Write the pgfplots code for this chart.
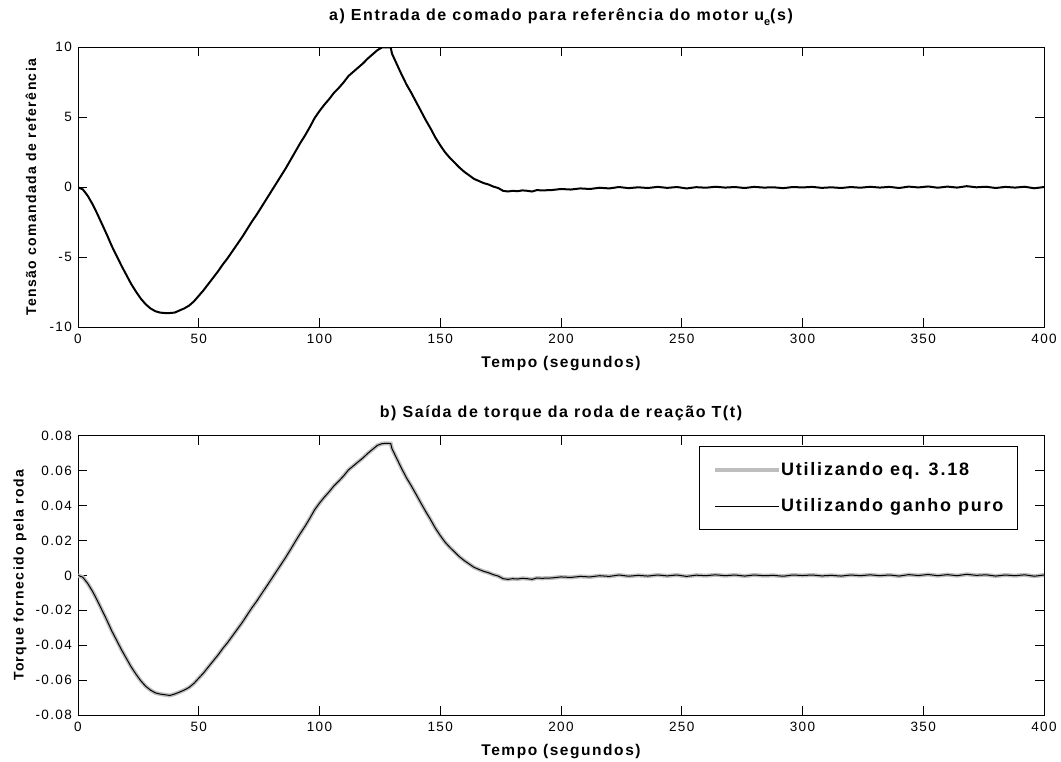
\documentclass[border=0pt]{standalone}
\usepackage{fontspec}
\setmainfont{Liberation Sans}
\newfontfamily\wide[LetterSpace=10]{Liberation Sans}
\usepackage{pgfplots}
\usepackage{pgfplotstable}
\pgfplotsset{compat=1.18}

\definecolor{lgray}{RGB}{190,190,190}

% time (s), commanded reference voltage u (V), wheel torque T (N m)
\pgfplotstableread{
t u T
0 0.00 0.0000
2 -0.15 -0.0011
4 -0.60 -0.0046
6 -1.20 -0.0091
8 -1.90 -0.0144
10 -2.65 -0.0201
12 -3.40 -0.0258
14 -4.20 -0.0319
16 -4.90 -0.0372
18 -5.60 -0.0426
20 -6.25 -0.0475
22 -6.90 -0.0524
24 -7.45 -0.0566
26 -7.95 -0.0604
28 -8.35 -0.0635
30 -8.65 -0.0657
32 -8.85 -0.0673
34 -8.95 -0.0680
36 -8.98 -0.0684
38 -8.98 -0.0688
40 -8.95 -0.0680
42 -8.80 -0.0669
44 -8.65 -0.0657
46 -8.45 -0.0642
48 -8.15 -0.0619
50 -7.75 -0.0589
52 -7.35 -0.0559
54 -6.90 -0.0524
56 -6.45 -0.0490
58 -6.00 -0.0456
60 -5.50 -0.0418
62 -5.05 -0.0384
64 -4.55 -0.0346
66 -4.05 -0.0308
68 -3.55 -0.0270
70 -3.00 -0.0228
72 -2.45 -0.0186
74 -1.95 -0.0148
76 -1.40 -0.0106
78 -0.85 -0.0065
80 -0.30 -0.0023
82 0.25 0.0019
84 0.80 0.0061
86 1.35 0.0103
88 1.95 0.0148
90 2.55 0.0194
92 3.15 0.0239
94 3.70 0.0281
96 4.30 0.0327
98 4.95 0.0376
100 5.45 0.0414
102 5.90 0.0448
104 6.30 0.0479
106 6.75 0.0513
108 7.10 0.0540
110 7.50 0.0570
112 7.95 0.0604
114 8.25 0.0627
116 8.55 0.0650
118 8.85 0.0673
120 9.20 0.0699
122 9.50 0.0722
124 9.80 0.0745
126 10.00 0.0755
128 10.00 0.0756
129.5 10.00 0.0755
130 9.55 0.0726
132 8.80 0.0669
134 8.05 0.0612
136 7.35 0.0559
138 6.75 0.0513
140 6.10 0.0464
142 5.45 0.0414
144 4.80 0.0365
146 4.20 0.0319
148 3.55 0.0270
150 3.00 0.0228
152 2.50 0.0190
154 2.10 0.0160
156 1.75 0.0133
158 1.40 0.0106
160 1.10 0.0084
162 0.85 0.0065
164 0.60 0.0046
166 0.45 0.0034
168 0.30 0.0023
170 0.20 0.0015
172 0.05 0.0004
174 -0.05 -0.0004
176 -0.25 -0.0019
178 -0.30 -0.0023
180 -0.25 -0.0019
182 -0.28 -0.0021
184 -0.22 -0.0017
186 -0.25 -0.0019
188 -0.30 -0.0023
190 -0.20 -0.0015
192 -0.22 -0.0017
196 -0.20 -0.0015
200 -0.12 -0.0009
204 -0.16 -0.0012
208 -0.08 -0.0006
212 -0.12 -0.0009
216 -0.03 -0.0002
220 -0.08 -0.0006
224 0.02 0.0002
228 -0.06 -0.0005
232 0.00 0.0000
236 -0.05 -0.0004
240 0.03 0.0002
244 -0.04 -0.0003
248 0.02 0.0002
252 -0.08 -0.0006
256 0.01 0.0001
260 -0.03 -0.0002
264 0.04 0.0003
268 -0.02 -0.0002
272 0.02 0.0002
276 -0.05 -0.0004
280 0.03 0.0002
284 -0.02 -0.0002
288 0.00 0.0000
292 -0.06 -0.0005
296 0.02 0.0002
300 -0.01 -0.0001
304 0.03 0.0002
308 -0.04 -0.0003
312 0.00 0.0000
316 -0.05 -0.0004
320 0.02 0.0002
324 -0.03 -0.0002
328 0.04 0.0003
332 -0.02 -0.0002
336 0.03 0.0002
340 -0.05 -0.0004
344 0.05 0.0004
348 -0.01 -0.0001
352 0.06 0.0005
356 -0.03 -0.0002
360 0.05 0.0004
364 -0.02 -0.0002
368 0.08 0.0006
372 0.00 0.0000
376 0.04 0.0003
380 -0.05 -0.0004
384 0.03 0.0002
388 -0.02 -0.0002
392 0.04 0.0003
396 -0.07 -0.0005
400 0.02 0.0002
}\data

\pgfplotsset{
  panel/.style={
    scale only axis,
    width=966pt,
    xmin=0, xmax=400,
    xtick={0,50,...,400},
    tick align=inside,
    major tick length=9pt,
    axis line style={line width=1pt, black},
    tick style={line width=0.9pt, black},
    /pgf/number format/assume math mode=true,
    xticklabel style={font=\wide\fontsize{13.5}{16}\selectfont, inner sep=0pt, yshift=-7pt},
    yticklabel style={font=\wide\fontsize{13.5}{16}\selectfont, inner sep=0pt, xshift=-6pt},
    title style={font=\wide\bfseries\fontsize{16}{19}\selectfont, at={(axis description cs:0.5,1)}, anchor=base, inner sep=0pt},
    xlabel={Tempo (segundos)},
    xlabel style={font=\wide\bfseries\fontsize{15.5}{18}\selectfont, at={(axis description cs:0.5,0)}, anchor=base, yshift=-40pt, inner sep=0pt},
    ylabel style={font=\wide\bfseries\fontsize{14}{17}\selectfont, anchor=center, inner sep=0pt},
  }
}

\begin{document}
\begin{tikzpicture}
\useasboundingbox (0,0) rectangle (1061pt,-761pt);

% a) commanded reference voltage
\begin{axis}[
  panel,
  at={(78pt,-47.3pt)}, anchor=north west,
  height=280pt,
  ymin=-10, ymax=10,
  ytick={-10,-5,0,5,10},
  title={a) Entrada de comado para referência do motor u\raisebox{-0.3em}{\fontsize{11}{11}\selectfont e}(s)},
  title style={yshift=20.5pt},
  ylabel={Tensão comandada de referência},
  ylabel style={at={([xshift=-47pt]axis description cs:0,0.5)}},
]
\addplot[black, line width=2pt] table[x=t, y=u] {\data};
\end{axis}

% b) reaction wheel torque output
\begin{axis}[
  panel,
  at={(78pt,-435.7pt)}, anchor=north west,
  height=279.3pt,
  ymin=-0.08, ymax=0.08,
  ytick={-0.08,-0.06,-0.04,-0.02,0,0.02,0.04,0.06,0.08},
  scaled y ticks=false,
  yticklabel style={/pgf/number format/fixed, /pgf/number format/precision=2},
  title={b) Saída de torque da roda de reação T(t)},
  title style={yshift=12.5pt},
  ylabel={Torque fornecido pela roda},
  ylabel style={at={([xshift=-58pt]axis description cs:0,0.5)}},
  legend cell align=left,
  legend image code/.code={\draw[#1] (0pt,0pt) -- (55pt,0pt); \path (0pt,0pt) -- (64pt,0pt);},
  legend style={
    at={(axis description cs:0.973,0.9615)}, anchor=north east,
    draw=black, line width=1pt, fill=white,
    inner xsep=14pt, inner ysep=16pt, row sep=21pt,
    font=\wide\bfseries\fontsize{18}{21}\selectfont,
    nodes={inner sep=0pt, text height=13pt, text depth=2pt},
  },
]
\addplot[lgray, line width=4pt] table[x=t, y=T] {\data};
\addlegendentry{Utilizando eq. 3.18}
\addplot[black, line width=1pt] table[x=t, y=T] {\data};
\addlegendentry{Utilizando ganho puro}
\end{axis}
\end{tikzpicture}
\end{document}
